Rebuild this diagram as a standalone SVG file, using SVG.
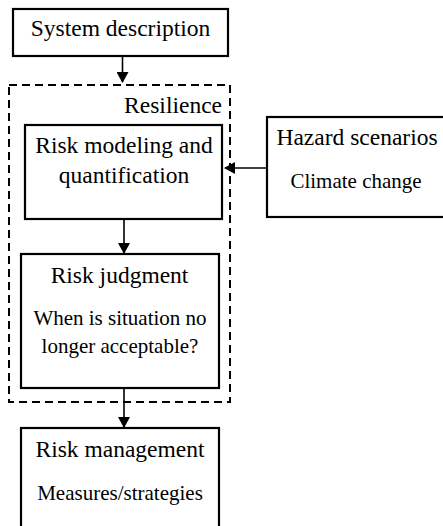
<svg xmlns="http://www.w3.org/2000/svg" width="443" height="526" viewBox="0 0 443 526">
<style>
.box{fill:#fff;stroke:#000;stroke-width:2.2}
.dash{fill:none;stroke:#000;stroke-width:2;stroke-dasharray:8 5}
.t{font-family:"Liberation Serif","Times New Roman",serif;font-size:23.5px;fill:#000;text-anchor:middle}
.s{font-family:"Liberation Serif","Times New Roman",serif;font-size:21px;fill:#000;text-anchor:middle}
.c{stroke:#000;stroke-width:1.6;fill:none}
</style>
<defs>
<marker id="ah" markerWidth="12" markerHeight="12" refX="10" refY="6" orient="auto" markerUnits="userSpaceOnUse">
<path d="M0,0 L11,6 L0,12 Z" fill="#000"/>
</marker>
</defs>
<rect width="443" height="526" fill="#fff"/>
<g id="resilience">
<rect class="dash" x="9" y="85" width="221" height="317"/>
<text class="t" x="222" y="113" style="text-anchor:end">Resilience</text>
</g>
<g id="system-description">
<rect class="box" x="13" y="9" width="215" height="47" stroke-width="2.6"/>
<text class="t" x="120.5" y="36">System description</text>
</g>
<g id="risk-modeling">
<rect class="box" x="25" y="125" width="197" height="94"/>
<text class="t" x="124" y="153">Risk modeling and</text>
<text class="t" x="124" y="183">quantification</text>
</g>
<g id="hazard-scenarios">
<rect class="box" x="267" y="117" width="180" height="100"/>
<text class="t" x="357" y="145">Hazard scenarios</text>
<text class="s" x="356" y="188">Climate change</text>
</g>
<g id="risk-judgment">
<rect class="box" x="21" y="254" width="198" height="134"/>
<text class="t" x="119.5" y="283">Risk judgment</text>
<text class="s" x="120" y="325">When is situation no</text>
<text class="s" x="120" y="353">longer acceptable?</text>
</g>
<g id="risk-management">
<rect class="box" x="21" y="428" width="198" height="102"/>
<text class="t" x="120" y="457">Risk management</text>
<text class="s" x="120" y="500">Measures/strategies</text>
</g>
<g id="connectors">
<line class="c" x1="122.5" y1="56" x2="122.5" y2="82" marker-end="url(#ah)"/>
<line class="c" x1="267" y1="168" x2="225" y2="168" marker-end="url(#ah)"/>
<line class="c" x1="124" y1="219" x2="124" y2="253" marker-end="url(#ah)"/>
<line class="c" x1="124" y1="388" x2="124" y2="427" marker-end="url(#ah)"/>
</g>
</svg>
